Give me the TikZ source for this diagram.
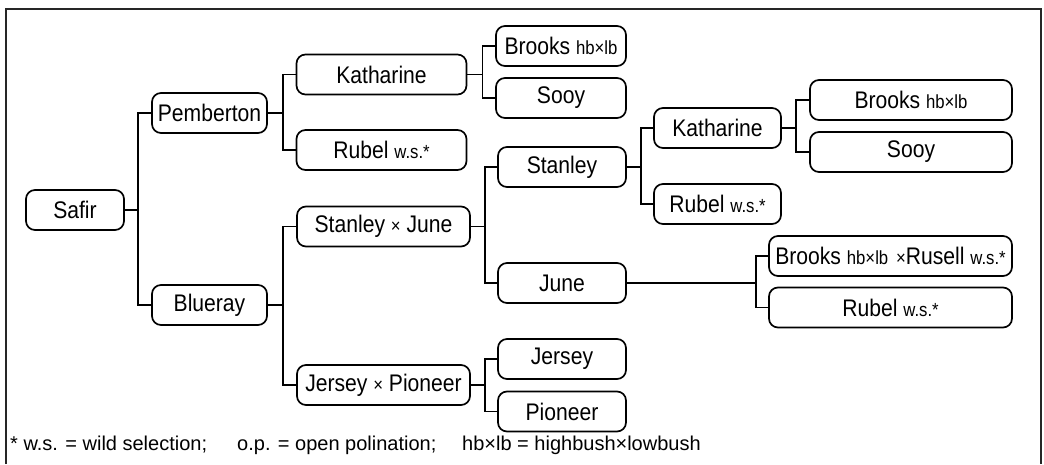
\documentclass[tikz,border=0pt]{standalone}
\usepackage{fontspec}
\setmainfont{Liberation Sans}
\newfontfamily\condfont[FakeStretch=0.88]{Liberation Sans}
\begin{document}
\begin{tikzpicture}[x=1pt,y=-1pt,
  box/.style={draw, line width=1.7pt, rounded corners=9pt, minimum height=40pt, inner sep=0pt, font=\condfont\fontsize{24}{26}\selectfont},
  link/.style={line width=1.7pt},
  frame/.style={line width=2.2pt, draw=black!85},
  legend/.style={anchor=west, inner sep=0pt, font=\fontsize{20}{22}\selectfont}]
\newcommand{\smt}[1]{{\fontsize{19}{20}\selectfont #1}}
\useasboundingbox (0,0) rectangle (1044,464);
\draw[frame] (6,464) -- (6,9) -- (1041,9) -- (1041,464);

\node[box, minimum width=98pt] (safir) at (75,210) {Safir};
\node[box, minimum width=115pt] (pemb) at (209.5,113) {Pemberton};
\node[box, minimum width=115pt] (blue) at (209.5,305) {Blueray};
\node[box, minimum width=170pt] (kathL) at (381.5,74.5) {Katharine};
\node[box, minimum width=170pt] (rubL) at (381.5,150) {Rubel \smt{w.s.*}};
\node[box, minimum width=173pt] (sj) at (383.5,226.5) {Stanley \smt{×} June};
\node[box, minimum width=173pt] (jp) at (383.5,385) {Jersey \smt{×} Pioneer};
\node[box, minimum width=130pt] (brT) at (561,46) {Brooks \smt{hb×lb}};
\node[box, minimum width=130pt] (sooT) at (561,98) {Sooy};
\node[box, minimum width=128pt] (stan) at (562,167) {Stanley};
\node[box, minimum width=128pt] (june) at (562,283) {June};
\node[box, minimum width=128pt] (jers) at (562,359) {Jersey};
\node[box, minimum width=128pt] (pion) at (562,411.5) {Pioneer};
\node[box, minimum width=127pt] (kathR) at (717.5,128) {Katharine};
\node[box, minimum width=127pt] (rubR) at (717.5,204) {Rubel \smt{w.s.*}};
\node[box, minimum width=202pt] (brR) at (911,100) {Brooks \smt{hb×lb}};
\node[box, minimum width=202pt] (sooR) at (911,152) {Sooy};
\node[box, minimum width=243pt] (brRus) at (890.5,256) {Brooks \smt{hb×lb \,×}Rusell \smt{w.s.*}};
\node[box, minimum width=243pt] (rubRB) at (890.5,307.5) {Rubel \smt{w.s.*}};

\draw[link] (safir.east) -- ++(13,0) |- (pemb.west);
\draw[link] (safir.east) -- ++(13,0) |- (blue.west);
\draw[link] (pemb.east) -- ++(15,0) |- (kathL.west);
\draw[link] (pemb.east) -- ++(15,0) |- (rubL.west);
\draw[link] (blue.east) -- ++(15,0) |- (sj.west);
\draw[link] (blue.east) -- ++(15,0) |- (jp.west);
\draw[link] (kathL.east) -- ++(15,0) |- (brT.west);
\draw[link] (kathL.east) -- ++(15,0) |- (sooT.west);
\draw[link] (sj.east) -- ++(14,0) |- (stan.west);
\draw[link] (sj.east) -- ++(14,0) |- (june.west);
\draw[link] (jp.east) -- ++(14,0) |- (jers.west);
\draw[link] (jp.east) -- ++(14,0) |- (pion.west);
\draw[link] (stan.east) -- ++(14,0) |- (kathR.west);
\draw[link] (stan.east) -- ++(14,0) |- (rubR.west);
\draw[link] (kathR.east) -- ++(14,0) |- (brR.west);
\draw[link] (kathR.east) -- ++(14,0) |- (sooR.west);
\draw[link] (june.east) -- ++(129,0) |- (brRus.west);
\draw[link] (june.east) -- ++(129,0) |- (rubRB.west);

\node[legend] (lg1) at (10,445) {* w.s. = wild selection;};
\node[legend] (lg2) at (237,445) {o.p. = open polination;};
\node[legend] (lg3) at (462,445) {hb×lb = highbush×lowbush};
\end{tikzpicture}
\end{document}
